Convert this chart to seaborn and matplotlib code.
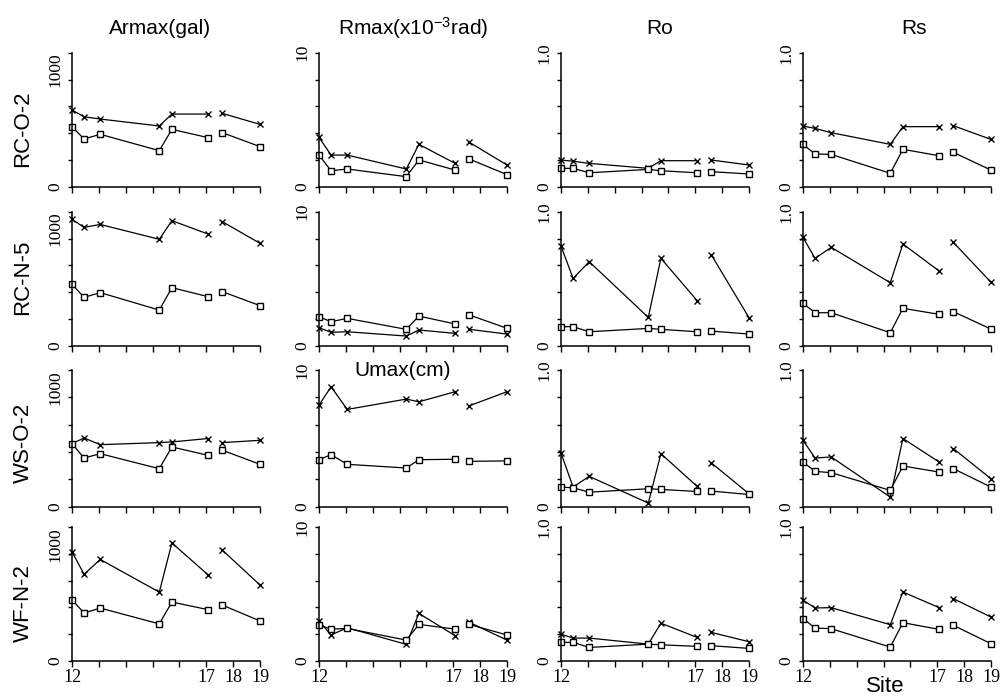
import numpy as np
import pandas as pd
import matplotlib
matplotlib.use("Agg")
import matplotlib.pyplot as plt
import seaborn as sns

# ---------------- data ----------------
site_pos = [12.0, 12.45, 13.05, 15.25, 15.72, 17.07, 17.6, 19.0]
segment = [1, 1, 1, 1, 1, 1, 2, 2]
x_tick_pos = [12, 13, 14, 15, 16, 17, 18, 19]
x_tick_labels = ["12", "", "", "", "", "17", "18", "19"]

row_names = ["RC-O-2", "RC-N-5", "WS-O-2", "WF-N-2"]
col_titles = ["Armax(gal)", "Rmax(x10$^{-3}$rad)", "Ro", "Rs"]
col_ymax = [1000, 10, 1.0, 1.0]
col_ytop_label = ["1000", "10", "1.0", "1.0"]

# RC-O-2
armax_up_rco2 = [572, 522, 505, 453, 542, 542, 547, 465]
armax_lo_rco2 = [448, 356, 391, 269, 428, 366, 403, 299]
rmax_up_rco2 = [3.68, 2.36, 2.36, 1.32, 3.16, 1.74, 3.31, 1.62]
rmax_lo_rco2 = [2.36, 1.19, 1.32, 0.75, 2.00, 1.24, 2.06, 0.90]
ro_up_rco2 = [0.199, 0.190, 0.174, 0.137, 0.194, 0.194, 0.199, 0.162]
ro_lo_rco2 = [0.137, 0.137, 0.104, 0.129, 0.119, 0.104, 0.112, 0.095]
rs_up_rco2 = [0.453, 0.435, 0.403, 0.316, 0.448, 0.448, 0.455, 0.353]
rs_lo_rco2 = [0.316, 0.244, 0.241, 0.100, 0.279, 0.231, 0.256, 0.124]

# RC-N-5
armax_up_rcn5 = [943, 883, 905, 794, 933, 833, 925, 764]
armax_lo_rcn5 = [458, 361, 396, 266, 433, 366, 403, 299]
rmax_up_rcn5 = [1.34, 1.00, 1.04, 0.72, 1.17, 0.92, 1.22, 0.87]
rmax_lo_rcn5 = [2.16, 1.79, 2.04, 1.22, 2.21, 1.62, 2.29, 1.30]
ro_up_rcn5 = [0.744, 0.502, 0.627, 0.211, 0.652, 0.336, 0.677, 0.209]
ro_lo_rcn5 = [0.142, 0.142, 0.104, 0.129, 0.122, 0.104, 0.109, 0.087]
rs_up_rcn5 = [0.808, 0.652, 0.734, 0.470, 0.759, 0.557, 0.771, 0.473]
rs_lo_rcn5 = [0.316, 0.246, 0.246, 0.097, 0.279, 0.234, 0.254, 0.124]

# WS-O-2 (second panel is Umax(cm))
armax_up_wso2 = [461, 502, 453, 468, 473, 498, 468, 485]
armax_lo_wso2 = [461, 355, 387, 277, 436, 375, 412, 309]
umax_up_wso2 = [7.43, 8.77, 7.11, 7.87, 7.67, 8.41, 7.38, 8.41]
umax_lo_wso2 = [3.43, 3.80, 3.09, 2.82, 3.43, 3.46, 3.31, 3.34]
ro_up_wso2 = [0.392, 0.142, 0.221, 0.025, 0.387, 0.147, 0.319, 0.093]
ro_lo_wso2 = [0.142, 0.137, 0.105, 0.130, 0.125, 0.110, 0.113, 0.088]
rs_up_wso2 = [0.485, 0.355, 0.363, 0.069, 0.498, 0.326, 0.424, 0.203]
rs_lo_wso2 = [0.326, 0.257, 0.248, 0.118, 0.297, 0.252, 0.277, 0.142]

# WF-N-2
armax_up_wfn2 = [815, 647, 758, 514, 881, 642, 827, 567]
armax_lo_wfn2 = [457, 358, 395, 277, 440, 383, 417, 299]
rmax_up_wfn2 = [2.98, 1.94, 2.48, 1.24, 3.55, 1.89, 2.88, 1.56]
rmax_lo_wfn2 = [2.68, 2.38, 2.43, 1.56, 2.73, 2.38, 2.73, 1.94]
ro_up_wfn2 = [0.200, 0.171, 0.171, 0.126, 0.282, 0.176, 0.213, 0.144]
ro_lo_wfn2 = [0.139, 0.139, 0.101, 0.126, 0.121, 0.109, 0.114, 0.094]
rs_up_wfn2 = [0.453, 0.396, 0.398, 0.271, 0.515, 0.398, 0.465, 0.328]
rs_lo_wfn2 = [0.316, 0.246, 0.241, 0.104, 0.286, 0.236, 0.266, 0.129]

upper = [
    [armax_up_rco2, rmax_up_rco2, ro_up_rco2, rs_up_rco2],
    [armax_up_rcn5, rmax_up_rcn5, ro_up_rcn5, rs_up_rcn5],
    [armax_up_wso2, umax_up_wso2, ro_up_wso2, rs_up_wso2],
    [armax_up_wfn2, rmax_up_wfn2, ro_up_wfn2, rs_up_wfn2],
]
lower = [
    [armax_lo_rco2, rmax_lo_rco2, ro_lo_rco2, rs_lo_rco2],
    [armax_lo_rcn5, rmax_lo_rcn5, ro_lo_rcn5, rs_lo_rcn5],
    [armax_lo_wso2, umax_lo_wso2, ro_lo_wso2, rs_lo_wso2],
    [armax_lo_wfn2, rmax_lo_wfn2, ro_lo_wfn2, rs_lo_wfn2],
]

# ---------------- style ----------------
sns.set_style("ticks")
plt.rcParams["font.family"] = ["Liberation Sans", "DejaVu Sans"]
plt.rcParams["mathtext.default"] = "regular"
SERIF = ["Liberation Serif", "DejaVu Serif"]

W, H = 1007, 696
fig = plt.figure(figsize=(W / 100, H / 100), dpi=100)
fig.patch.set_facecolor("white")

col_left = [72, 319, 561, 803]
col_w = 188
row_top = [52.7, 211.7, 370, 527]
row_bot = [186.7, 345.7, 506.5, 661]

for r in range(4):
    for c in range(4):
        ax = fig.add_axes([col_left[c] / W, 1 - row_bot[r] / H,
                           col_w / W, (row_bot[r] - row_top[r]) / H])
        ax.set_facecolor("white")
        top = col_ymax[c]
        d_up = pd.DataFrame({"site": site_pos, "value": upper[r][c], "seg": segment})
        d_lo = pd.DataFrame({"site": site_pos, "value": lower[r][c], "seg": segment})
        sns.lineplot(data=d_up, x="site", y="value", units="seg", estimator=None,
                     color="black", linewidth=0.9, marker="x", markersize=5,
                     markeredgewidth=1.0, markeredgecolor="black",
                     clip_on=False, ax=ax)
        sns.lineplot(data=d_lo, x="site", y="value", units="seg", estimator=None,
                     color="black", linewidth=0.9, marker="s", markersize=4.5,
                     markeredgewidth=1.0, markeredgecolor="black",
                     markerfacecolor="white", clip_on=False, ax=ax)
        ax.set_xlim(12, 19)
        ax.set_ylim(0, top)
        ax.set_xlabel("")
        ax.set_ylabel("")
        ax.set_xticks(x_tick_pos)
        if r == 3:
            ax.set_xticklabels(x_tick_labels, family=SERIF, fontsize=13)
        else:
            ax.set_xticklabels([""] * len(x_tick_pos))
        yt = np.linspace(0, top, 6)
        ax.set_yticks(yt)
        ax.set_yticklabels(["0", "", "", "", "", col_ytop_label[c]],
                           rotation=90, va="center", family=SERIF, fontsize=12.5)
        if c == 0:
            ax.get_yticklabels()[-1].set_va("top")
        ax.tick_params(axis="y", length=3, width=1, pad=3, colors="black")
        ax.tick_params(axis="x", length=4, width=1, pad=2, colors="black")
        for s in ("left", "bottom"):
            ax.spines[s].set_linewidth(1.1)
            ax.spines[s].set_color("black")
        sns.despine(ax=ax)

# column titles
title_x = [160, 413, 660, 914]
for c in range(4):
    fig.text(title_x[c] / W, 1 - 28 / H, col_titles[c], ha="center", va="center",
             fontsize=15, color="black")

# Umax title inside the WS-O-2 second panel
fig.text(403 / W, 1 - 371 / H, "Umax(cm)", ha="center", va="center",
         fontsize=15, color="black")

# row labels
row_label_y = [129, 277, 443, 603]
for r in range(4):
    fig.text(23 / W, 1 - row_label_y[r] / H, row_names[r], rotation=90,
             ha="center", va="center", fontsize=16, color="black")

# x-axis label
fig.text(885 / W, 1 - 686 / H, "Site", ha="center", va="center",
         fontsize=16, color="black")

fig.savefig("out.png", dpi=100, facecolor="white")
